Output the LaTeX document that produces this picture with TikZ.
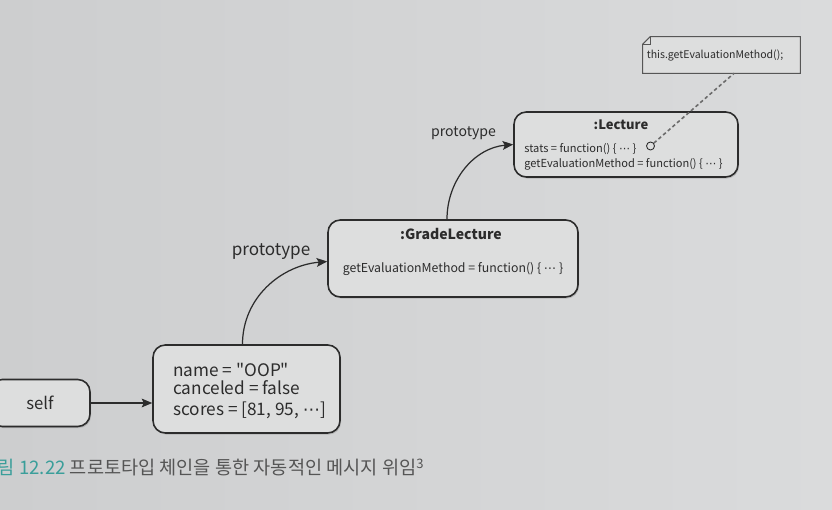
\documentclass[tikz,border=0pt]{standalone}
\usepackage{fontspec}
\setmainfont{Noto Sans CJK KR}
\newfontfamily\plainfont{Noto Sans CJK KR}
\newfontfamily\symfont{DejaVu Sans}
\usetikzlibrary{arrows.meta,shadows}
\definecolor{paperleft}{HTML}{CDCECF}
\definecolor{paperright}{HTML}{DADBDC}
\definecolor{boxfill}{HTML}{DDDEDE}
\definecolor{ink}{HTML}{2C2C2C}
\definecolor{capteal}{HTML}{3A9E9A}
\definecolor{capgray}{HTML}{555555}
\tikzset{
	objbox/.style={draw=ink, line width=0.9pt, fill=boxfill, rounded corners=7pt,
		drop shadow={shadow xshift=0.6pt, shadow yshift=-0.9pt, opacity=0.35}},
	objtext/.style={inner sep=0pt, text=ink, text height=0.72em, text depth=0.2em},
	link/.style={draw=ink, line width=0.7pt, -{Stealth[length=6pt,width=5pt,inset=1.2pt]}},
}
\newcommand{\dotsc}{{\symfont ⋯}}
\begin{document}
\begin{tikzpicture}
		\shade[left color=paperleft, right color=paperright] (0,0) rectangle (16.64,10.2);
		\clip (0,0) rectangle (16.64,10.2);
		\node[objbox, minimum width=2cm, minimum height=0.94cm, text=ink, font=\fontsize{9.5}{11}\selectfont] (self) at (0.8,2.14) {self};
		\node[objbox, minimum width=3.74cm, minimum height=1.76cm] (obj) at (4.93,2.42) {};
		\foreach \y/\t [count=\i] in {2.76/{name = "OOP"}, 2.4/{canceled = false}, 1.98/{scores = [81, 95, \dotsc]}}{
			\node[objtext, anchor=west, font=\plainfont\fontsize{9.8}{11}\selectfont] (obj\i) at (3.46,\y) {\t};
		}
		\node[objbox, minimum width=5cm, minimum height=1.54cm] (grade) at (9.06,5.03) {};
		\node[objtext, font=\bfseries\fontsize{8}{10}\selectfont] (gradetitle) at (9.02,5.5) {:GradeLecture};
		\node[objtext, font=\fontsize{7}{9}\selectfont] (grade1) at (9.06,4.84) {getEvaluationMethod = function() \{ \dotsc\ \}};
		\node[objbox, minimum width=4.48cm, minimum height=1.3cm] (lect) at (12.52,7.31) {};
		\node[objtext, font=\bfseries\fontsize{7.4}{9}\selectfont] (lecttitle) at (12.42,7.7) {:Lecture};
		\foreach \y/\t [count=\i] in {7.24/{stats = function() \{ \dotsc\ \}}, 6.94/{getEvaluationMethod = function() \{ \dotsc\ \}}}{
			\node[objtext, anchor=west, font=\fontsize{6.3}{8}\selectfont] (lect\i) at (10.48,\y) {\t};
		}
		\node[circle, draw=ink, line width=0.5pt, minimum size=0.16cm, inner sep=0pt] (hook) at (13.01,7.28) {};
		\node[minimum width=3.14cm, minimum height=0.72cm, inner sep=0pt] (note) at (14.43,9.1) {};
		\filldraw[fill=boxfill, draw=ink!80, line width=0.6pt] ([yshift=-0.15cm]note.north west) -- ([xshift=0.15cm]note.north west) -- (note.north east) -- (note.south east) -- (note.south west) -- cycle;
		\draw[draw=ink!80, line width=0.5pt] ([yshift=-0.15cm]note.north west) -- ([xshift=0.15cm,yshift=-0.15cm]note.north west) -- ([xshift=0.15cm]note.north west);
		\node[objtext, font=\fontsize{6}{7}\selectfont] (notetext) at (14.3,9.12) {this.getEvaluationMethod();};
		\draw[ink!70, line width=0.9pt, dash pattern=on 2pt off 1.5pt] (hook) -- ([xshift=0.25cm]note.south);
		\draw[link] (self.east) -- (self.east -| obj.west);
		\draw[link] ([xshift=-0.08cm]obj.north) to[out=90, in=185] ([yshift=-0.06cm]grade.west);
		\draw[link] ([xshift=-0.12cm]grade.north) to[out=90, in=185] (lect.west);
		\node[objtext, font=\fontsize{9.7}{12}\selectfont] (proto1) at (5.42,5.18) {prototype};
		\node[objtext, font=\fontsize{8}{10}\selectfont] (proto2) at (9.27,7.56) {prototype};
		\node[inner sep=0pt, anchor=base west, font=\fontsize{10.6}{12}\selectfont] (caption) at (-0.05,0.7) {\textcolor{capteal}{림 12.22} \textcolor{capgray}{프로토타입 체인을 통한 자동적인 메시지 위임\textsuperscript{3}}};
\end{tikzpicture}
\end{document}
